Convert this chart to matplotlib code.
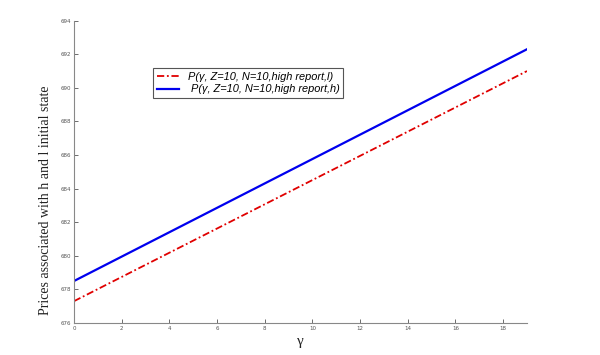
import matplotlib
matplotlib.use("Agg")
import matplotlib.pyplot as plt
import numpy as np

gamma = [0, 19]
price_l = [677.3, 691.0]
price_h = [678.5, 692.3]
xticks = [0, 2, 4, 6, 8, 10, 12, 14, 16, 18]
yticks = [676, 678, 680, 682, 684, 686, 688, 690, 692, 694]
labels = ["P(\u03b3, Z=10, N=10,high report,l)", " P(\u03b3, Z=10, N=10,high report,h)"]

fig = plt.figure(figsize=(6, 3.55), dpi=100)
ax = fig.add_axes([0.1233, 0.0901, 0.755, 0.8516])

ax.plot(gamma, price_l, color="#e00000", lw=1.3, linestyle=(0, (4, 1.5, 1, 1.5)), label=labels[0])
ax.plot(gamma, price_h, color="#0000ee", lw=1.6, linestyle="-", label=labels[1])

ax.set_xlim(0, 19)
ax.set_ylim(676, 694)
ax.set_xticks(xticks)
ax.set_yticks(yticks)
ax.tick_params(direction="in", labelsize=4, colors="#555555", length=3, width=0.6, pad=2)
for s in ["top", "right"]:
    ax.spines[s].set_visible(False)
for s in ["left", "bottom"]:
    ax.spines[s].set_color("#888888")
    ax.spines[s].set_linewidth(0.8)

ax.set_ylabel("Prices associated with h and l initial state", family="Liberation Serif", fontsize=10, color="#222222")
ax.yaxis.set_label_coords(-0.048, 0.405)
ax.set_xlabel("\u03b3", family="Liberation Serif", fontsize=11, color="#222222", labelpad=3)

leg = ax.legend(loc="upper left", bbox_to_anchor=(0.163, 0.862), prop={"family": "Liberation Sans", "style": "italic", "size": 7.9},
                handlelength=2.0, handletextpad=0.8, borderpad=0.35, labelspacing=0.25, fancybox=False, framealpha=1)
leg.get_frame().set_edgecolor("#555555")
leg.get_frame().set_linewidth(0.8)

fig.savefig("out.png", dpi=100)
